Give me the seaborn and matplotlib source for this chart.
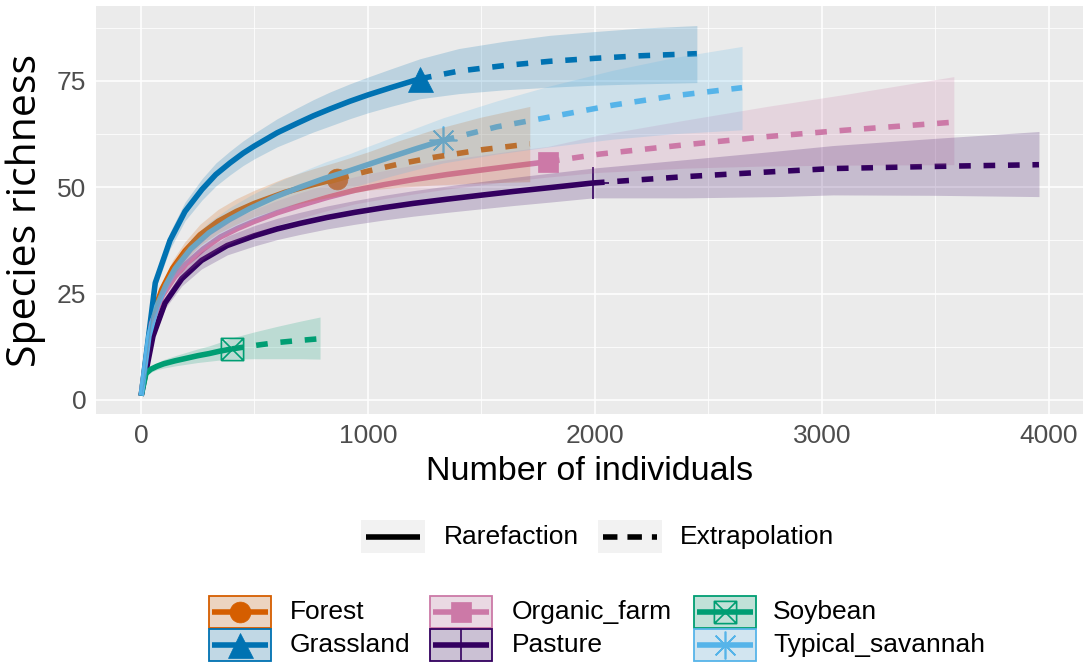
import numpy as np
import pandas as pd
import matplotlib
matplotlib.use("Agg")
import matplotlib.pyplot as plt
import seaborn as sns
from matplotlib.path import Path
from matplotlib.patches import Rectangle
from matplotlib.lines import Line2D

# ---------------- data ----------------
habitats = ["Forest", "Grassland", "Organic_farm", "Pasture", "Soybean", "Typical_savannah"]
methods = ["Rarefaction", "Extrapolation"]

forest_rare_n = [1, 46, 92, 140, 194, 260, 340, 420, 500, 634, 750, 865]
forest_rare_s = [1, 19, 26, 31, 35, 38.8, 42, 44.3, 46.2, 48.8, 50.5, 52]
forest_rare_lo = [1, 17.8, 24.4, 29.1, 32.8, 36.3, 39.2, 41.3, 43.1, 45.4, 46.8, 48]
forest_rare_hi = [1, 20.2, 27.6, 32.9, 37.2, 41.3, 44.8, 47.3, 49.3, 52.2, 54.2, 56]
forest_ext_n = [865, 1000, 1140, 1286, 1500, 1713]
forest_ext_s = [52, 53.8, 55.5, 57, 58.8, 60.2]
forest_ext_lo = [48, 49.3, 50, 50.5, 51, 51.3]
forest_ext_hi = [56, 58.3, 61, 63.5, 66.5, 69]

grass_rare_n = [1, 63, 128, 194, 269, 330, 392, 450, 500, 600, 687, 760, 833, 920, 1000, 1100, 1229]
grass_rare_s = [1, 27.5, 37.5, 44.3, 49.5, 53, 55.7, 58, 59.7, 62.8, 65, 66.8, 68.4, 70.2, 71.7, 73.4, 75.5]
grass_rare_lo = [1, 26, 35.5, 42.1, 47, 50.3, 52.9, 55.1, 56.7, 59.5, 61.4, 63, 64.4, 66.1, 67.5, 69, 70.8]
grass_rare_hi = [1, 29, 39.5, 46.5, 52, 55.7, 58.5, 60.9, 62.7, 66.1, 68.6, 70.6, 72.4, 74.3, 75.9, 77.8, 80.2]
grass_ext_n = [1229, 1400, 1600, 1800, 2000, 2200, 2449]
grass_ext_s = [75.5, 77.3, 78.6, 79.6, 80.3, 80.9, 81.4]
grass_ext_lo = [70.8, 72, 72.9, 73.5, 74, 74.3, 74.6]
grass_ext_hi = [80.2, 82.6, 84.3, 85.7, 86.6, 87.4, 88]

organic_rare_n = [1, 47, 94, 150, 200, 275, 350, 425, 500, 600, 700, 820, 943, 1070, 1200, 1350, 1493, 1640, 1793]
organic_rare_s = [1, 18, 24.5, 29, 32, 35.5, 38.3, 40.3, 42, 44, 45.7, 47.6, 49.3, 50.6, 51.8, 53, 54, 55, 56]
organic_rare_lo = [1, 17, 23.1, 27.3, 30, 33.2, 35.8, 37.6, 39.2, 41.1, 42.7, 44.5, 46.1, 47.3, 48.4, 49.6, 50.5, 51.5, 52.4]
organic_rare_hi = [1, 19, 25.9, 30.7, 34, 37.8, 40.8, 43, 44.8, 46.9, 48.7, 50.7, 52.5, 53.9, 55.2, 56.5, 57.5, 58.6, 59.6]
organic_ext_n = [1793, 2022, 2400, 2758, 3100, 3581]
organic_ext_s = [56, 57.8, 60, 61.9, 63.4, 65.3]
organic_ext_lo = [52.4, 53.5, 54.5, 55, 55.2, 55.3]
organic_ext_hi = [59.6, 62.3, 65.8, 69, 71.8, 76]

pasture_rare_n = [1, 53, 106, 180, 267, 380, 500, 600, 700, 820, 943, 1070, 1200, 1350, 1493, 1640, 1800, 1991]
pasture_rare_s = [1, 15, 22.8, 28.5, 32.8, 36.3, 38.6, 40.2, 41.5, 42.9, 44.1, 45.2, 46.2, 47.2, 48.1, 49, 49.9, 51]
pasture_rare_lo = [1, 14.1, 21.5, 26.8, 30.8, 34.1, 36.2, 37.7, 38.9, 40.2, 41.3, 42.3, 43.2, 44.1, 44.9, 45.7, 46.5, 47.5]
pasture_rare_hi = [1, 15.9, 24.1, 30.2, 34.8, 38.5, 41, 42.7, 44.1, 45.6, 46.9, 48.1, 49.2, 50.3, 51.3, 52.3, 53.3, 54.5]
pasture_ext_n = [1991, 2400, 2800, 3048, 3500, 3956]
pasture_ext_s = [51, 52.5, 53.7, 54.4, 54.9, 55.3]
pasture_ext_lo = [47.5, 47.5, 47.8, 48.2, 48.1, 47.8]
pasture_ext_hi = [54.5, 56.5, 58.5, 59.8, 61.5, 63.1]

soy_rare_n = [1, 22, 43, 70, 100, 150, 200, 250, 300, 350, 401]
soy_rare_s = [1, 6.2, 7.2, 7.9, 8.5, 9.2, 9.8, 10.4, 10.9, 11.5, 12]
soy_rare_lo = [1, 5.7, 6.5, 7.1, 7.5, 8.0, 8.4, 8.8, 9.1, 9.4, 9.6]
soy_rare_hi = [1, 6.7, 7.9, 8.7, 9.5, 10.4, 11.2, 12.0, 12.7, 13.6, 14.6]
soy_ext_n = [401, 500, 600, 700, 789]
soy_ext_s = [12, 12.8, 13.5, 14, 14.4]
soy_ext_lo = [9.6, 9.7, 9.7, 9.7, 9.6]
soy_ext_hi = [14.6, 16, 17.3, 18.5, 19.5]

sav_rare_n = [1, 35, 70, 110, 150, 220, 300, 390, 480, 590, 700, 810, 920, 1010, 1100, 1215, 1330]
sav_rare_s = [1, 15, 22, 27, 30.8, 35.5, 39.3, 42.4, 45, 47.7, 50, 52.1, 53.9, 55.5, 57.1, 59.1, 61]
sav_rare_lo = [1, 14.2, 20.8, 25.5, 29, 33.3, 36.8, 39.6, 42, 44.4, 46.5, 48.3, 49.9, 51.2, 52.6, 54.2, 55.7]
sav_rare_hi = [1, 15.8, 23.2, 28.5, 32.6, 37.7, 41.8, 45.2, 48, 51, 53.5, 55.9, 57.9, 59.8, 61.6, 64, 66.3]
sav_ext_n = [1330, 1568, 1800, 2079, 2350, 2648]
sav_ext_s = [61, 64.2, 66.5, 69.3, 71.5, 73.4]
sav_ext_lo = [55.7, 57.8, 59.5, 61.3, 62.6, 63.5]
sav_ext_hi = [66.3, 70.3, 73.8, 77.5, 80.5, 83.1]

x_ticks = [0, 1000, 2000, 3000, 4000]
y_ticks = [0, 25, 50, 75]

# ---------------- styling ----------------
colors = {
    "Forest": "#D55E00",
    "Grassland": "#0072B2",
    "Organic_farm": "#CC79A7",
    "Pasture": "#33005F",
    "Soybean": "#009E73",
    "Typical_savannah": "#56B4E9",
}

box_x_path = Path(
    [(-1, -1), (1, -1), (1, 1), (-1, 1), (-1, -1), (-1, -1), (1, 1), (-1, 1), (1, -1)],
    [Path.MOVETO, Path.LINETO, Path.LINETO, Path.LINETO, Path.LINETO,
     Path.MOVETO, Path.LINETO, Path.MOVETO, Path.LINETO],
)
marker_style = {
    "Forest": dict(marker="o", ms=15, filled=True),
    "Grassland": dict(marker="^", ms=18, filled=True),
    "Organic_farm": dict(marker="s", ms=15, filled=True),
    "Pasture": dict(marker="+", ms=23, filled=False),
    "Soybean": dict(marker=box_x_path, ms=16, filled=False),
    "Typical_savannah": dict(marker=(8, 2, 0), ms=20, filled=False),
}

raw = {
    "Forest": (forest_rare_n, forest_rare_s, forest_rare_lo, forest_rare_hi,
               forest_ext_n, forest_ext_s, forest_ext_lo, forest_ext_hi),
    "Grassland": (grass_rare_n, grass_rare_s, grass_rare_lo, grass_rare_hi,
                  grass_ext_n, grass_ext_s, grass_ext_lo, grass_ext_hi),
    "Organic_farm": (organic_rare_n, organic_rare_s, organic_rare_lo, organic_rare_hi,
                     organic_ext_n, organic_ext_s, organic_ext_lo, organic_ext_hi),
    "Pasture": (pasture_rare_n, pasture_rare_s, pasture_rare_lo, pasture_rare_hi,
                pasture_ext_n, pasture_ext_s, pasture_ext_lo, pasture_ext_hi),
    "Soybean": (soy_rare_n, soy_rare_s, soy_rare_lo, soy_rare_hi,
                soy_ext_n, soy_ext_s, soy_ext_lo, soy_ext_hi),
    "Typical_savannah": (sav_rare_n, sav_rare_s, sav_rare_lo, sav_rare_hi,
                         sav_ext_n, sav_ext_s, sav_ext_lo, sav_ext_hi),
}

rows = []
for h in habitats:
    rn, rs, rl, rh, en, es, el, eh = raw[h]
    for n, s, lo, hi in zip(rn, rs, rl, rh):
        rows.append((h, "Rarefaction", n, s, lo, hi))
    for n, s, lo, hi in zip(en, es, el, eh):
        rows.append((h, "Extrapolation", n, s, lo, hi))
df = pd.DataFrame(rows, columns=["habitat", "method", "n", "s", "lo", "hi"])

sns.set_theme(style="darkgrid", rc={
    "axes.facecolor": "#EBEBEB",
    "grid.color": "white",
})
plt.rcParams["font.family"] = ["Liberation Sans", "DejaVu Sans"]

W, H = 1083, 663
fig = plt.figure(figsize=(W / 100, H / 100), dpi=100)
ax = fig.add_axes([96 / W, 1 - 414 / H, (W - 96) / W, (414 - 6) / H])

LW = 4.0  # points

# observed points (drawn first)
for h in habitats:
    rn, rs = raw[h][0], raw[h][1]
    st = marker_style[h]
    c = colors[h]
    if st["filled"]:
        ax.plot([rn[-1]], [rs[-1]], linestyle="none", marker=st["marker"], ms=st["ms"],
                mfc=c, mec=c, mew=0.5, zorder=2)
    else:
        ax.plot([rn[-1]], [rs[-1]], linestyle="none", marker=st["marker"], ms=st["ms"],
                mfc="none", mec=c, mew=1.2, zorder=2)

# curves
n_before = len(ax.lines)
sns.lineplot(data=df, x="n", y="s", hue="habitat", style="method",
             hue_order=habitats, style_order=methods, palette=colors,
             dashes={"Rarefaction": "", "Extrapolation": (2.1, 2.3)},
             linewidth=LW, estimator=None, sort=False, legend=False, ax=ax)
for ln in ax.lines[n_before:]:
    ln.set_solid_capstyle("butt")
    ln.set_dash_capstyle("butt")
    ln.set_solid_joinstyle("round")
    ln.set_zorder(2.5)

# ribbons (on top, translucent)
for h in habitats:
    sub = df[df.habitat == h].drop_duplicates(subset="n").sort_values("n")
    ax.fill_between(sub["n"], sub["lo"], sub["hi"], color=colors[h], alpha=0.2,
                    linewidth=0, zorder=3)

ax.set_xlim(-198, 4150)
ax.set_ylim(-3.3, 92.6)
ax.set_xticks(x_ticks)
ax.set_yticks(y_ticks)
ax.set_xticks([500, 1500, 2500, 3500], minor=True)
ax.set_yticks([12.5, 37.5, 62.5, 87.5], minor=True)
ax.grid(which="major", color="white", linewidth=1.1)
ax.grid(which="minor", color="white", linewidth=0.55)
ax.set_axisbelow(True)
for sp in ax.spines.values():
    sp.set_visible(False)
ax.tick_params(axis="both", which="major", length=4, width=0.8, color="#333333",
               labelsize=19, labelcolor="#4D4D4D", pad=3)
ax.tick_params(axis="both", which="minor", length=0)
ax.set_xlabel("Number of individuals", fontsize=24.5, color="black", labelpad=6)
ax.set_ylabel("Species richness", fontsize=29.5, color="black", labelpad=8,
              family=["Open Sans", "DejaVu Sans"])

# ---------------- legends (drawn in pixel space) ----------------
lg = fig.add_axes([0, 0, 1, 1], facecolor="none")
lg.set_xlim(0, W)
lg.set_ylim(H, 0)
lg.axis("off")

# method legend
key_w, key_h = 64, 33
for kx, lab, ls, tx in [(361, "Rarefaction", "-", 444), (598, "Extrapolation", "--", 680)]:
    lg.add_patch(Rectangle((kx, 520), key_w, key_h, facecolor="#F2F2F2", edgecolor="none"))
    ln = Line2D([kx + 5, kx + key_w - 5], [536.5, 536.5], color="black", lw=LW,
                solid_capstyle="butt", dash_capstyle="butt")
    if ls == "--":
        ln.set_dashes((2.6, 1.8))
    lg.add_line(ln)
    lg.text(tx, 537, lab, fontsize=19, va="center", ha="left", color="black")

# habitat legend
col_x = [209, 430, 694]
txt_x = [290, 512, 773]
row_y = [596, 629]
bw, bh = 62, 32
for i, h in enumerate(habitats):
    ci, ri = i // 2, i % 2
    x0, y0 = col_x[ci], row_y[ri]
    c = colors[h]
    cx, cy = x0 + bw / 2, y0 + bh / 2
    lg.add_patch(Rectangle((x0, y0), bw, bh, facecolor="#F2F2F2", edgecolor="none"))
    st = marker_style[h]
    if st["filled"]:
        lg.plot([cx], [cy], linestyle="none", marker=st["marker"], ms=st["ms"],
                mfc=c, mec=c, mew=0.5)
    else:
        lg.plot([cx], [cy], linestyle="none", marker=st["marker"], ms=st["ms"],
                mfc="none", mec=c, mew=1.2)
    lg.add_line(Line2D([x0 + 3, x0 + bw - 3], [cy, cy], color=c, lw=LW,
                       solid_capstyle="butt"))
    lg.add_patch(Rectangle((x0, y0), bw, bh, facecolor=c, alpha=0.2, edgecolor="none"))
    lg.add_patch(Rectangle((x0, y0), bw, bh, facecolor="none", edgecolor=c, lw=1.3))
    lg.text(txt_x[ci], cy, h, fontsize=19, va="center", ha="left", color="black")

fig.savefig("out.png", dpi=100)
